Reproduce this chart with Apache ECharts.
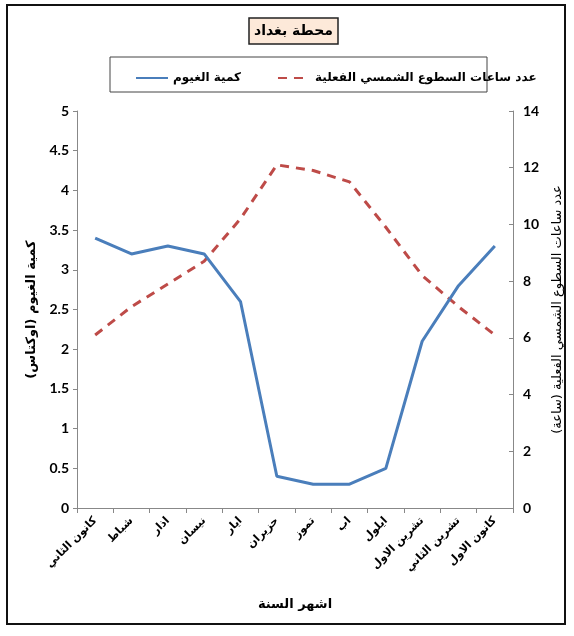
<!DOCTYPE html>
<html>
<head>
<meta charset="utf-8">
<script src="https://cdn.jsdelivr.net/npm/echarts@6/dist/echarts.min.js"></script>
<style>
html, body { margin: 0; padding: 0; background: #fff; }
#chart { width: 574px; height: 636px; }
</style>
</head>
<body>
<div id="chart"></div>
<script>
// Monthly climate data for Baghdad station
const months = ['كانون الثاني', 'شباط', 'اذار', 'نيسان', 'ايار', 'حزيران', 'تموز', 'اب', 'ايلول', 'تشرين الاول', 'تشرين الثاني', 'كانون الاول'];
const cloudOktas = [3.4, 3.2, 3.3, 3.2, 2.6, 0.4, 0.3, 0.3, 0.5, 2.1, 2.8, 3.3];
const sunshineHours = [6.1, 7.1, 7.9, 8.7, 10.2, 12.1, 11.9, 11.5, 9.9, 8.2, 7.1, 6.1];

const cloudName = 'كمية الغيوم';
const sunName = 'عدد ساعات السطوع الشمسي الفعلية';

const arFont = 'DejaVu Sans';
const numFont = 'Lato';

const chart = echarts.init(document.getElementById('chart'));
chart.setOption({
  backgroundColor: '#fff',
  animation: false,
  title: {
    text: 'محطة بغداد',
    left: 249,
    top: 18,
    backgroundColor: '#FDE9D9',
    borderColor: '#222',
    borderWidth: 1.5,
    padding: [6, 5, 6, 5],
    textStyle: { fontFamily: arFont, fontWeight: 'bold', fontSize: 14, color: '#000' }
  },
  graphic: [
    {
      type: 'rect',
      shape: { x: 7, y: 5, width: 558, height: 619 },
      style: { fill: 'none', stroke: '#111', lineWidth: 2 },
      z: -1
    },
    {
      type: 'rect',
      shape: { x: 110, y: 57, width: 377, height: 35 },
      style: { fill: 'none', stroke: '#444', lineWidth: 1 },
      z: -1
    }
  ],
  legend: {
    data: [cloudName, sunName],
    left: 130,
    top: 67,
    itemWidth: 32,
    itemHeight: 14,
    itemGap: 36,
    itemStyle: { opacity: 0 },
    textStyle: { fontFamily: arFont, fontWeight: 'bold', fontSize: 12, color: '#000' }
  },
  grid: { left: 77, right: 61, top: 111, bottom: 128, containLabel: false },
  xAxis: {
    type: 'category',
    data: months,
    boundaryGap: true,
    name: 'اشهر السنة',
    nameLocation: 'middle',
    nameGap: 90,
    nameTextStyle: { fontFamily: arFont, fontWeight: 'bold', fontSize: 13, color: '#000' },
    axisLine: { lineStyle: { color: '#888', width: 1 } },
    axisTick: { show: true, alignWithLabel: false, length: 5, lineStyle: { color: '#888' } },
    axisLabel: {
      rotate: 45,
      interval: 0,
      margin: 11,
      fontFamily: arFont,
      fontWeight: 'bold',
      fontSize: 11,
      color: '#000'
    },
    splitLine: { show: false }
  },
  yAxis: [
    {
      type: 'value',
      min: 0,
      max: 5,
      interval: 0.5,
      position: 'left',
      name: 'كمية الغيوم (اوكتاس)',
      nameLocation: 'middle',
      nameGap: 38,
      nameRotate: 90,
      nameTextStyle: { fontFamily: arFont, fontWeight: 'bold', fontSize: 13, color: '#000' },
      axisLine: { show: true, lineStyle: { color: '#888' } },
      axisTick: { show: true, length: 4, lineStyle: { color: '#888' } },
      axisLabel: { fontFamily: numFont, fontWeight: 'bold', fontSize: 14, color: '#000', margin: 8 },
      splitLine: { show: false }
    },
    {
      type: 'value',
      min: 0,
      max: 14,
      interval: 2,
      position: 'right',
      name: 'عدد ساعات السطوع الشمسي الفعلية (ساعة)',
      nameLocation: 'middle',
      nameGap: 38,
      nameRotate: 90,
      nameTextStyle: { fontFamily: arFont, fontSize: 13, color: '#000' },
      axisLine: { show: true, lineStyle: { color: '#888' } },
      axisTick: { show: true, inside: true, length: 4, lineStyle: { color: '#888' } },
      axisLabel: { fontFamily: numFont, fontWeight: 'bold', fontSize: 14, color: '#000', margin: 10 },
      splitLine: { show: false }
    }
  ],
  series: [
    {
      name: cloudName,
      type: 'line',
      yAxisIndex: 0,
      data: cloudOktas,
      symbol: 'none',
      lineStyle: { color: '#4A7EBB', width: 3 },
      itemStyle: { color: '#4A7EBB' },
      z: 3
    },
    {
      name: sunName,
      type: 'line',
      yAxisIndex: 1,
      data: sunshineHours,
      symbol: 'none',
      lineStyle: { color: '#BE4B48', width: 3, type: [9, 7] },
      itemStyle: { color: '#BE4B48' },
      z: 2
    }
  ]
});
</script>
</body>
</html>
